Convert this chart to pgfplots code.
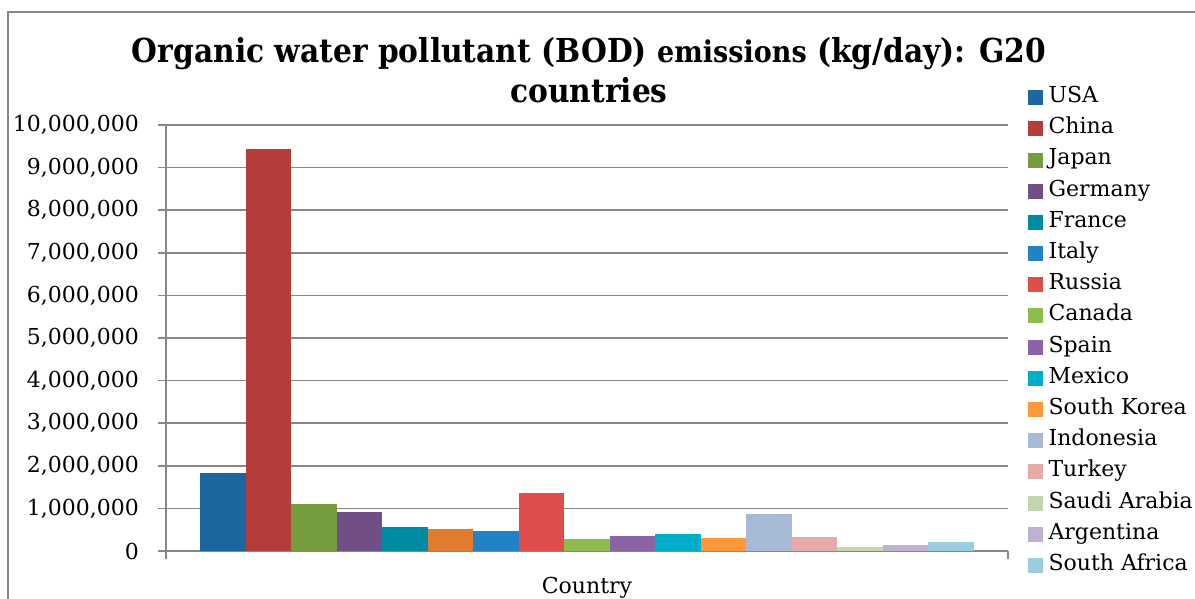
\documentclass[border=0pt]{standalone}
\usepackage{pgfplots}
\pgfplotsset{compat=1.18}
\usepackage{fontspec}
\setmainfont{DejaVu Serif}
\newfontfamily\titlefont[FakeStretch=0.9]{DejaVu Serif}

\definecolor{cUSA}{HTML}{1C67A0}
\definecolor{cChina}{HTML}{B43D3A}
\definecolor{cJapan}{HTML}{759C3D}
\definecolor{cGermany}{HTML}{704F87}
\definecolor{cFrance}{HTML}{008BA4}
\definecolor{cUK}{HTML}{E07B30}
\definecolor{cItaly}{HTML}{2282C4}
\definecolor{cRussia}{HTML}{DE4F4C}
\definecolor{cCanada}{HTML}{8EBC50}
\definecolor{cSpain}{HTML}{8B64A5}
\definecolor{cMexico}{HTML}{00AEC9}
\definecolor{cKorea}{HTML}{FF9838}
\definecolor{cIndonesia}{HTML}{A6BAD8}
\definecolor{cTurkey}{HTML}{E8AAA9}
\definecolor{cSaudi}{HTML}{C3D6AD}
\definecolor{cArgentina}{HTML}{BEB2D0}
\definecolor{cSAfrica}{HTML}{99CDDF}
\definecolor{axisgray}{HTML}{878787}

\begin{document}
\begin{tikzpicture}[x=1pt,y=1pt]
\useasboundingbox (0,0) rectangle (1195,599);
% outer chart frame
\draw[axisgray, line width=1.2pt] (8,0) -- (8,587) -- (1195,587);
% title
\node[anchor=base, font=\titlefont\fontsize{33}{36}\selectfont\bfseries] at (589,536)
  {Organic water pollutant (BOD) {\fontsize{30}{33}\selectfont emissions} (kg/day): G20};
\node[anchor=base, font=\titlefont\fontsize{33}{36}\selectfont\bfseries] at (589,496) {countries};

\begin{axis}[
  at={(166pt,48pt)}, anchor=south west,
  scale only axis, width=842pt, height=426pt,
  ybar=0pt, bar width=45.5pt,
  xmin=-1, xmax=1, ymin=0, ymax=10000000,
  ytick={0,1000000,...,10000000},
  xtick={-1,1}, xticklabels={},
  scaled y ticks=false,
  axis lines*=left,
  axis line style={axisgray, line width=1.5pt, -},
  tick style={axisgray, line width=1.5pt},
  tick align=outside, major tick length=8pt,
  ymajorgrids, major grid style={axisgray, line width=1.5pt},
  y tick label style={font=\fontsize{22}{26}\selectfont, inner sep=0pt, xshift=-19pt,
    /pgf/number format/.cd, fixed, precision=0, 1000 sep={,}, assume math mode=true},
  xlabel={Country},
  xlabel style={font=\fontsize{22}{26}\selectfont, at={(axis description cs:0.5,-0.087)}, anchor=center},
  legend style={at={(axis description cs:1.023,1.0906)}, anchor=north west,
    draw=none, fill=none, font=\fontsize{22}{26}\selectfont,
    row sep=9.2pt, inner sep=0pt,
    nodes={inner sep=0pt, text height=16pt, text depth=6pt},
    cells={anchor=west},
    /tikz/every odd column/.append style={column sep=6pt}},
  legend image code/.code={\fill[#1] (0pt,-7.5pt) rectangle (15pt,7.5pt);},
  every axis plot/.append style={draw=none},
]
% 17 side-by-side bars, each 45.5pt wide, placed by explicit shifts
\addplot[fill=cUSA, bar shift=-364pt] coordinates {(0,1840000)};
\addlegendentry{USA}
\addplot[fill=cChina, bar shift=-318.5pt] coordinates {(0,9440000)};
\addlegendentry{China}
\addplot[fill=cJapan, bar shift=-273pt] coordinates {(0,1100000)};
\addlegendentry{Japan}
\addplot[fill=cGermany, bar shift=-227.5pt] coordinates {(0,915000)};
\addlegendentry{Germany}
\addplot[fill=cFrance, bar shift=-182pt] coordinates {(0,563000)};
\addlegendentry{France}
% this series has no legend entry
\addplot[fill=cUK, bar shift=-136.5pt, forget plot] coordinates {(0,516000)};
\addplot[fill=cItaly, bar shift=-91pt] coordinates {(0,470000)};
\addlegendentry{Italy}
\addplot[fill=cRussia, bar shift=-45.5pt] coordinates {(0,1360000)};
\addlegendentry{Russia}
\addplot[fill=cCanada, bar shift=0pt] coordinates {(0,282000)};
\addlegendentry{Canada}
\addplot[fill=cSpain, bar shift=45.5pt] coordinates {(0,352000)};
\addlegendentry{Spain}
\addplot[fill=cMexico, bar shift=91pt] coordinates {(0,399000)};
\addlegendentry{Mexico}
\addplot[fill=cKorea, bar shift=136.5pt] coordinates {(0,306000)};
\addlegendentry{South Korea}
\addplot[fill=cIndonesia, bar shift=182pt] coordinates {(0,868000)};
\addlegendentry{Indonesia}
\addplot[fill=cTurkey, bar shift=227.5pt] coordinates {(0,330000)};
\addlegendentry{Turkey}
\addplot[fill=cSaudi, bar shift=273pt] coordinates {(0,94000)};
\addlegendentry{Saudi Arabia}
\addplot[fill=cArgentina, bar shift=318.5pt] coordinates {(0,141000)};
\addlegendentry{Argentina}
\addplot[fill=cSAfrica, bar shift=364pt] coordinates {(0,211000)};
\addlegendentry{South Africa}
\end{axis}
\end{tikzpicture}
\end{document}
